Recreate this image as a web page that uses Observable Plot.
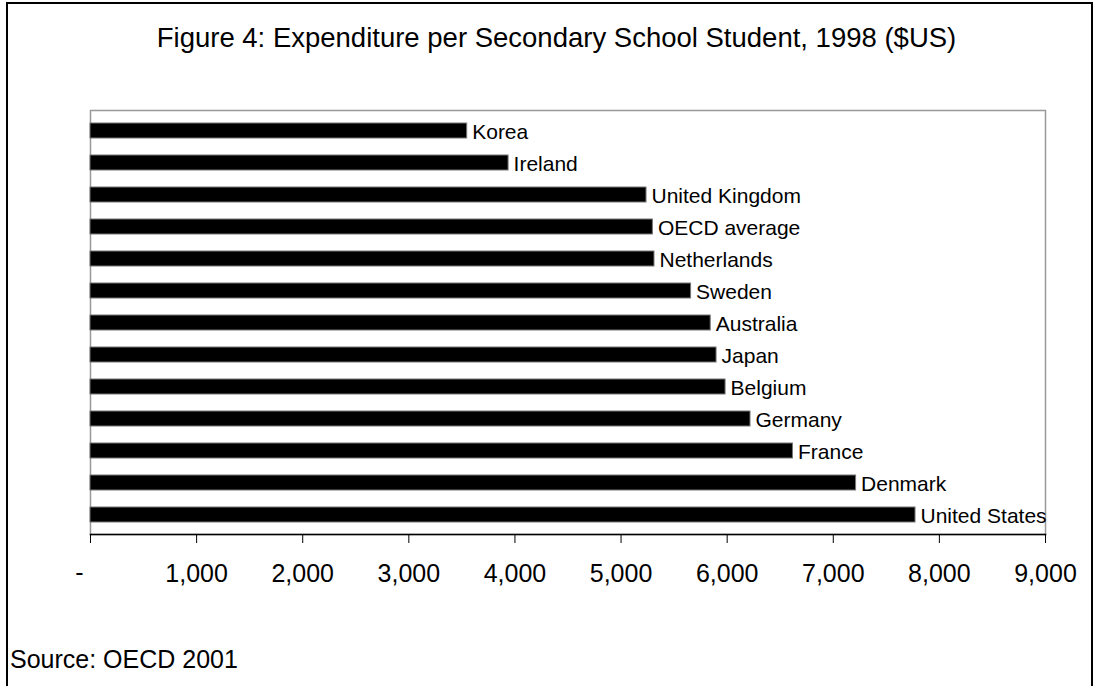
<!DOCTYPE html>
<html>
<head>
<meta charset="utf-8">
<script src="https://cdn.jsdelivr.net/npm/d3@7"></script>
<script src="https://cdn.jsdelivr.net/npm/@observablehq/plot@0.6"></script>
<style>
  html, body { margin: 0; padding: 0; background: #fff; }
  #wrap { position: relative; width: 1095px; height: 686px; overflow: hidden; background: #fff;
          font-family: "Liberation Sans", Arial, sans-serif; color: #000; }
  #border { position: absolute; left: 6px; top: 2px; width: 1087px; height: 720px;
            border: 2px solid #000; box-sizing: border-box; z-index: 2; pointer-events: none; }
  #title { position: relative; height: 90px; box-sizing: border-box; padding-top: 24px;
           font-size: 27.5px; line-height: 27px; text-align: center; padding-left: 18px; white-space: nowrap; }
  #chart { position: relative; }
  #chart svg { background: transparent; }
  #source { position: absolute; left: 10px; top: 647px; font-size: 25px; line-height: 25px; white-space: nowrap; }
</style>
</head>
<body>
<div id="wrap">
  <div id="border"></div>
  <div id="title">Figure 4: Expenditure per Secondary School Student, 1998 ($US)</div>
  <div id="chart"></div>
  <div id="source">Source: OECD 2001</div>
</div>
<script>
const countries = ["Korea", "Ireland", "United Kingdom", "OECD average", "Netherlands", "Sweden",
  "Australia", "Japan", "Belgium", "Germany", "France", "Denmark", "United States"];
const spending = [3550, 3940, 5240, 5300, 5315, 5660, 5845, 5900, 5985, 6220, 6620, 7215, 7775];
const tickValues = [0, 1000, 2000, 3000, 4000, 5000, 6000, 7000, 8000, 9000];
const zeroLabel = ["-"];

const data = countries.map((c, i) => ({country: c, value: spending[i]}));
const fmt = d3.format(",");

const chart = Plot.plot({
  width: 1095,
  height: 510,
  marginLeft: 90,
  marginRight: 50,
  marginTop: 20,
  marginBottom: 66,
  style: {fontFamily: "'Liberation Sans', Arial, sans-serif", background: "transparent", color: "#000"},
  x: {domain: [0, 9000], axis: null},
  y: {domain: countries, axis: null, paddingInner: 0.54, paddingOuter: 0.27},
  marks: [
    Plot.frame({stroke: "#999", strokeWidth: 1.5}),
    Plot.barX(data, {x: "value", y: "country", fill: "#000", stroke: "#777", strokeWidth: 1}),
    Plot.text(data, {x: "value", y: "country", text: "country", textAnchor: "start",
      dx: 5, dy: 1, fontSize: 21, fill: "#000"}),
    Plot.frame({anchor: "bottom", stroke: "#000", strokeWidth: 1.5}),
    Plot.axisX(tickValues, {tickSize: 9, tickPadding: 21, fontSize: 25, stroke: "#000", fill: "#000",
      tickFormat: d => d === 0 ? "" : fmt(d), label: null}),
    Plot.text(zeroLabel, {x: () => 0, frameAnchor: "bottom", dy: 46, dx: -11, text: d => d,
      fontSize: 25, fill: "#000"})
  ]
});
document.getElementById("chart").appendChild(chart);
</script>
</body>
</html>
